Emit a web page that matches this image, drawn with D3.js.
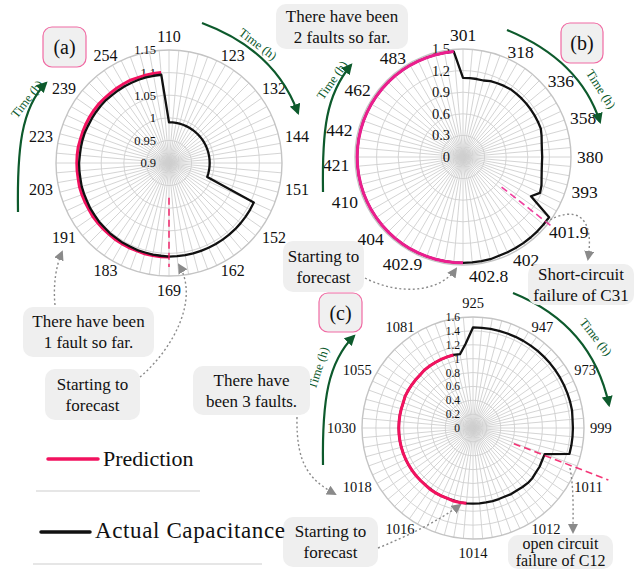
<!DOCTYPE html>
<html>
<head>
<meta charset="utf-8">
<script src="https://cdn.jsdelivr.net/npm/d3@7"></script>
<style>
  body { margin: 0; background: #fff; }
  svg text { font-family: "Liberation Serif", "Times New Roman", serif; fill: #111; }
</style>
</head>
<body>
<script>
// every dial is sampled at N equal steps around the circle (one spoke per step)
var N = 72;

// ---- (a) ----
var timeLabelsA = ["110","123","132","144","151","152","162","169","183","191","203","223","239","254"];
var radialTicksA = [0.9, 0.95, 1, 1.05, 1.1, 1.15];
var actualA = [
  0.99,0.99,0.99,0.99,0.99,0.99,0.99,0.99,0.99,0.99,0.99,0.99,
  0.99,0.99,0.99,0.99,0.99,0.99,0.99,0.99,0.99,0.99,0.99,1.107,
  1.107,1.107,1.107,1.107,1.107,1.107,1.107,1.107,1.107,1.107,1.107,1.107,
  1.107,1.106,1.106,1.105,1.105,1.104,1.104,1.103,1.103,1.102,1.102,1.101,
  1.101,1.1,1.1,1.1,1.099,1.099,1.099,1.098,1.098,1.098,1.098,1.097,
  1.097,1.097,1.097,1.097,1.096,1.096,1.096,1.096,1.096,1.096,1.096,1.096
];
var predStartA = 36;
var predA = [
  1.108,1.108,1.108,1.108,1.107,1.107,1.107,1.107,1.106,1.106,1.106,1.106,
  1.105,1.105,1.105,1.105,1.104,1.104,1.104,1.104,1.104,1.103,1.103,1.103,
  1.103,1.103,1.103,1.102,1.102,1.102,1.102,1.102,1.101,1.101,1.101,1.101
];
var markA = [36, 0.977, 1.13];   // sample index, inner value, outer value

// ---- (b) ----
var timeLabelsB = ["301","318","336","358","380","393","401.9","402","402.8","402.9","404","410","421","442","462","483"];
var timeTickIdxB = [0, 4.6, 9.6, 14, 18, 21.6, 26.2, 30.8, 33.4, 40.2, 44.8, 49.4, 53.2, 56.8, 61.2, 66];
var radialTicksB = [0, 0.3, 0.6, 0.9, 1.2, 1.5];
var actualB = [
  1.1,1.1,1.1,1.1,1.12,1.13,1.14,1.15,1.15,1.15,1.15,1.15,
  1.15,1.15,1.15,1.13,1.11,1.1,1.1,1.1,1.11,1.13,1.16,1.18,
  1.09,1.46,1.46,1.46,1.46,1.46,1.46,1.46,1.46,1.47,1.47,1.47,
  1.47,1.47,1.47,1.47,1.47,1.47,1.47,1.47,1.47,1.47,1.47,1.47,
  1.47,1.47,1.47,1.47,1.47,1.47,1.47,1.47,1.47,1.47,1.47,1.47,
  1.47,1.47,1.47,1.47,1.47,1.47,1.47,1.47,1.47,1.47,1.47,1.47
];
var predStartB = 36;
var predB = [
  1.47,1.47,1.47,1.47,1.47,1.47,1.47,1.47,1.47,1.47,1.47,1.47,
  1.47,1.47,1.47,1.47,1.47,1.47,1.47,1.47,1.47,1.47,1.47,1.47,
  1.47,1.47,1.47,1.47,1.47,1.47,1.47,1.47,1.47,1.47,1.47,1.47
];
var markB = [25.6, 0.68, 1.58];

// ---- (c) ----
var timeLabelsC = ["925","947","973","999","1011","1012","1014","1016","1018","1030","1055","1081"];
var radialTicksC = [0, 0.2, 0.4, 0.6, 0.8, 1, 1.2, 1.4, 1.6];
var actualC = [
  1.45,1.45,1.45,1.45,1.45,1.45,1.45,1.45,1.45,1.45,1.45,1.45,
  1.45,1.45,1.45,1.45,1.45,1.44,1.44,1.44,1.44,1.44,1.1,1.1,
  1.11,1.11,1.12,1.12,1.11,1.1,1.1,1.09,1.09,1.09,1.09,1.09,
  1.09,1.09,1.09,1.08,1.08,1.08,1.08,1.07,1.07,1.07,1.07,1.07,
  1.07,1.07,1.07,1.07,1.07,1.07,1.07,1.07,1.07,1.07,1.07,1.08,
  1.08,1.08,1.08,1.08,1.09,1.09,1.09,1.09,1.09,1.09,1.08,1.22
];
var predStartC = 37;
var predC = [
  1.09,1.09,1.09,1.08,1.08,1.08,1.08,1.07,1.07,1.07,1.07,1.07,
  1.07,1.07,1.07,1.07,1.07,1.07,1.07,1.07,1.07,1.07,1.08,1.08,
  1.08,1.08,1.08,1.09,1.09,1.09,1.09,1.09,1.09
];
var markC = [22.2, 0.63, 2.09];

var PINK = "#f2125f", MAGENTA = "#ec1e8e", GREEN = "#0d5a2c", GRID = "#cfcfcf";

var svg = d3.select("body").append("svg")
    .attr("width", 641)
    .attr("height", 569);

var defs = svg.append("defs");
function marker(id, color, size) {
  defs.append("marker")
      .attr("id", id)
      .attr("viewBox", "0 0 10 10")
      .attr("refX", 8).attr("refY", 5)
      .attr("markerWidth", size).attr("markerHeight", size)
      .attr("markerUnits", "userSpaceOnUse")
      .attr("orient", "auto")
    .append("path")
      .attr("d", "M0,0 L10,5 L0,10 z")
      .attr("fill", color);
}
marker("green", GREEN, 11);
marker("grey", "#8a8a8a", 10);

function dial(o) {
  var g = svg.append("g").attr("transform", "translate(" + o.cx + "," + o.cy + ")");
  var ang = d3.scaleLinear().domain([0, N]).range([0, 2 * Math.PI]);
  var rad = d3.scaleLinear().domain(d3.extent(o.rTicks)).range([0, o.R]);

  // spokes
  g.append("g").selectAll("line").data(d3.range(N)).join("line")
      .attr("x1", 0).attr("y1", 0)
      .attr("x2", function(i) { return o.R * Math.sin(ang(i)); })
      .attr("y2", function(i) { return -o.R * Math.cos(ang(i)); })
      .attr("stroke", GRID).attr("stroke-width", 0.9);

  // rings
  g.append("g").selectAll("circle").data(o.rTicks.slice(1)).join("circle")
      .attr("r", rad)
      .attr("fill", "none")
      .attr("stroke", function(d, i) { return i == o.rTicks.length - 2 ? "#c4c4c4" : GRID; })
      .attr("stroke-width", function(d, i) { return i == o.rTicks.length - 2 ? 1.4 : 0.9; });

  // radial tick labels
  g.append("g").selectAll("text").data(o.rTicks).join("text")
      .attr("x", -13)
      .attr("y", function(d) { return -rad(d); })
      .attr("dy", "0.35em")
      .attr("text-anchor", "end")
      .style("font-size", o.rFont + "px")
      .text(function(d) { return d; });

  // time tick labels
  g.append("g").selectAll("text").data(o.labels).join("text")
      .each(function(d, k) {
        var a = ang(o.tickIdx[k]), s = Math.sin(a), c = Math.cos(a), rr = o.R + 6;
        var mid = Math.abs(s) < 0.3;
        d3.select(this)
          .attr("x", rr * s)
          .attr("y", -rr * c - (mid ? c * 8 : 0))
          .attr("dy", "0.35em")
          .attr("text-anchor", mid ? "middle" : (s > 0 ? "start" : "end"));
      })
      .style("font-size", o.tFont + "px")
      .text(function(d) { return d; });

  var closed = d3.lineRadial()
      .angle(function(d, i) { return ang(i); })
      .radius(function(d) { return rad(d); })
      .curve(d3.curveLinearClosed);
  var open = d3.lineRadial()
      .angle(function(d, i) { return ang(i + o.predStart); })
      .radius(function(d) { return rad(d); });

  function drawActual() {
    g.append("path").datum(o.actual)
        .attr("d", closed)
        .attr("fill", "none").attr("stroke", "#111").attr("stroke-width", 2.3)
        .attr("stroke-linejoin", "round");
  }
  function drawPred() {
    g.append("path").datum(o.pred)
        .attr("d", open)
        .attr("fill", "none").attr("stroke", o.pink).attr("stroke-width", 3);
  }
  if (o.blackOnTop) { drawPred(); drawActual(); } else { drawActual(); drawPred(); }

  // dashed fault / forecast marker
  var a = ang(o.mark[0]);
  g.append("line")
      .attr("x1", rad(o.mark[1]) * Math.sin(a)).attr("y1", -rad(o.mark[1]) * Math.cos(a))
      .attr("x2", rad(o.mark[2]) * Math.sin(a)).attr("y2", -rad(o.mark[2]) * Math.cos(a))
      .attr("stroke", o.pink).attr("stroke-opacity", 0.85)
      .attr("stroke-width", 1.6).attr("stroke-dasharray", "7,4");
}

dial({cx: 169, cy: 163, R: 113, rTicks: radialTicksA, rFont: 12.5, tFont: 16,
      labels: timeLabelsA, tickIdx: timeLabelsA.map(function(d, k) { return k * N / timeLabelsA.length; }),
      actual: actualA, pred: predA, predStart: predStartA, mark: markA, pink: PINK, blackOnTop: true});
dial({cx: 463, cy: 157, R: 108, rTicks: radialTicksB, rFont: 14.5, tFont: 17.5,
      labels: timeLabelsB, tickIdx: timeTickIdxB,
      actual: actualB, pred: predB, predStart: predStartB, mark: markB, pink: MAGENTA, blackOnTop: false});
dial({cx: 473, cy: 428, R: 111, rTicks: radialTicksC, rFont: 11.5, tFont: 14.5,
      labels: timeLabelsC, tickIdx: timeLabelsC.map(function(d, k) { return k * N / timeLabelsC.length; }),
      actual: actualC, pred: predC, predStart: predStartC, mark: markC, pink: PINK, blackOnTop: false});

// ---- "Time (h)" arrows ----
var ann = svg.append("g");
function timeArrow(d, tx, ty, rot) {
  ann.append("path").attr("d", d)
      .attr("fill", "none").attr("stroke", GREEN).attr("stroke-width", 2.2)
      .attr("marker-end", "url(#green)");
  ann.append("text")
      .attr("transform", "translate(" + tx + "," + ty + ") rotate(" + rot + ")")
      .attr("text-anchor", "middle").attr("dy", "0.35em")
      .style("font-size", "12.5px").style("fill", GREEN)
      .text("Time (h)");
}
timeArrow("M18,212 C17,150 21,108 46,83", 27, 99, -52);
timeArrow("M202,23 Q275,50 298,113", 258, 44, 37);
timeArrow("M323,192 C322,130 326,95 351,65", 332, 80, -55);
timeArrow("M507,30 Q580,60 600,122", 601, 89, 57);
timeArrow("M323,465 C322,400 328,362 354,336", 318, 368, -72);
timeArrow("M513,293 Q592,325 609,405", 596, 337, 52);

// ---- panel tags ----
function tag(x, y, w, h, t) {
  ann.append("rect").attr("x", x).attr("y", y).attr("width", w).attr("height", h)
      .attr("rx", 9).attr("fill", "#f0f0f0").attr("stroke", "#f06aa3").attr("stroke-width", 1.2);
  ann.append("text").attr("x", x + w / 2).attr("y", y + h / 2).attr("dy", "0.35em")
      .attr("text-anchor", "middle").style("font-size", "20px").text(t);
}
tag(43, 27, 43, 40, "(a)");
tag(561, 23, 42, 40, "(b)");
tag(319, 293, 43, 39, "(c)");

// ---- callouts ----
function callout(x, y, w, h, lines, gap, fs) {
  gap = gap || 21;
  fs = fs || 17;
  ann.append("rect").attr("x", x).attr("y", y).attr("width", w).attr("height", h)
      .attr("rx", 10).attr("fill", "#efefef");
  lines.forEach(function(t, i) {
    ann.append("text")
        .attr("x", x + w / 2)
        .attr("y", y + h / 2 + (i - (lines.length - 1) / 2) * gap)
        .attr("dy", "0.35em").attr("text-anchor", "middle")
        .style("font-size", fs + "px").text(t);
  });
}
function pointer(d) {
  ann.append("path").attr("d", d)
      .attr("fill", "none").attr("stroke", "#8a8a8a").attr("stroke-width", 1.4)
      .attr("stroke-dasharray", "2,2.5").attr("marker-end", "url(#grey)");
}
callout(276, 4, 132, 45, ["There have been", "2 faults so far."]);
callout(23, 307, 131, 50, ["There have been", "1 fault so far."]);
callout(45, 369, 95, 51, ["Starting to", "forecast"]);
callout(283, 241, 81, 51, ["Starting to", "forecast"]);
callout(528, 264, 106, 41, ["Short-circuit", "failure of C31"]);
callout(193, 366, 117, 49, ["There have", "been 3 faults."]);
callout(283, 517, 95, 50, ["Starting to", "forecast"]);
callout(508, 535, 105, 34, ["open circuit", "failure of C12"], 17, 16);

pointer("M55,305 C53,285 56,266 62,252");
pointer("M140,377 C172,350 200,300 179,265");
pointer("M546,222 C575,205 595,215 588,259");
pointer("M365,278 C400,296 440,292 456,269");
pointer("M297,417 C296,465 310,480 335,494");
pointer("M378,548 C410,535 440,520 460,505");
pointer("M570,468 C574,490 573,510 573,532");

// ---- legend ----
var leg = svg.append("g");
leg.append("line").attr("x1", 48).attr("x2", 98).attr("y1", 459).attr("y2", 459)
    .attr("stroke", PINK).attr("stroke-width", 3.5).attr("stroke-linecap", "round");
leg.append("text").attr("x", 103).attr("y", 466).style("font-size", "22px").text("Prediction");
leg.append("line").attr("x1", 36).attr("x2", 200).attr("y1", 491).attr("y2", 491)
    .attr("stroke", "#dedede").attr("stroke-width", 1.5);
leg.append("line").attr("x1", 41).attr("x2", 90).attr("y1", 532).attr("y2", 532)
    .attr("stroke", "#111").attr("stroke-width", 3.5).attr("stroke-linecap", "round");
leg.append("text").attr("x", 95).attr("y", 538).style("font-size", "23px")
    .attr("textLength", 190).attr("lengthAdjust", "spacing").text("Actual Capacitance");
leg.append("line").attr("x1", 33).attr("x2", 262).attr("y1", 564).attr("y2", 564)
    .attr("stroke", "#dedede").attr("stroke-width", 1.5);
</script>
</body>
</html>
